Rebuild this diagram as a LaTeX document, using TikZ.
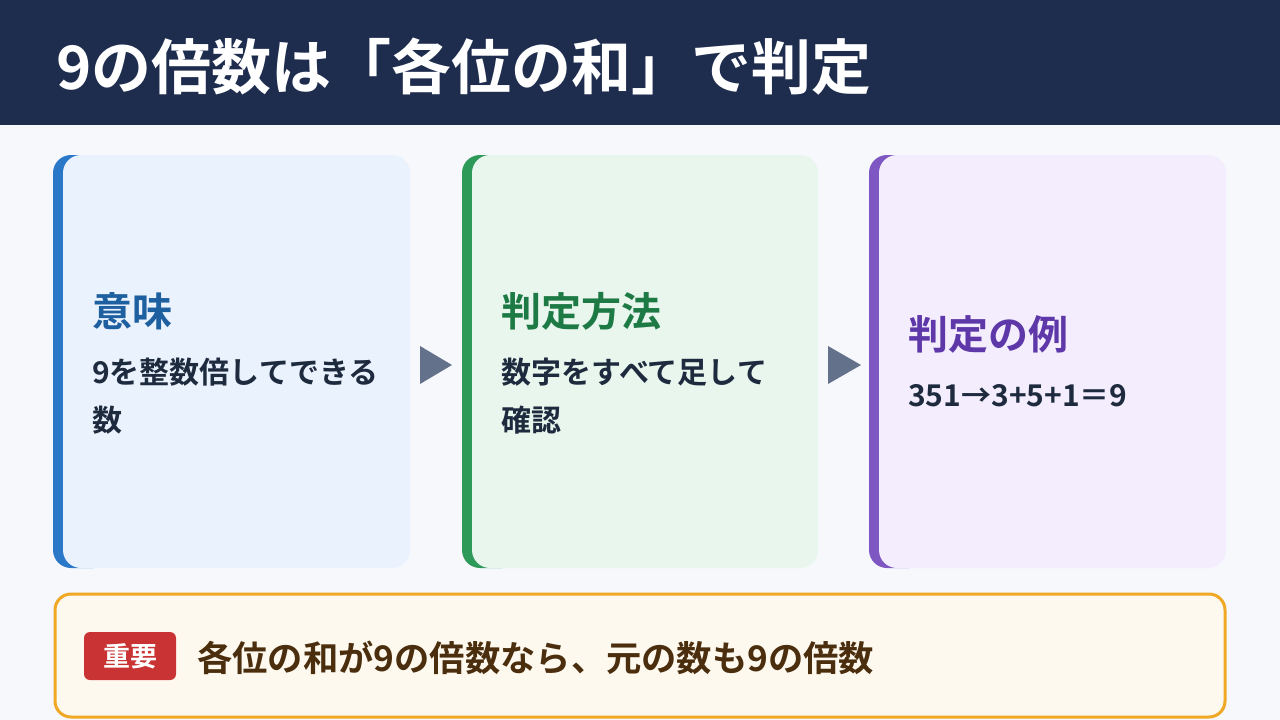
\documentclass[tikz,border=0pt]{standalone}
\usepackage{fontspec}
\setmainfont{Noto Sans CJK JP}[BoldFont={Noto Sans CJK JP Bold}]
\usetikzlibrary{shapes.geometric}
\definecolor{bgc}{HTML}{F6F8FC}
\definecolor{navy}{HTML}{1E2C4E}
\definecolor{ink}{HTML}{1E2A3E}
\definecolor{accA}{HTML}{2B78C8}
\definecolor{fillA}{HTML}{EAF2FE}
\definecolor{headA}{HTML}{1E5FA0}
\definecolor{accB}{HTML}{2E9A5A}
\definecolor{fillB}{HTML}{E8F6EE}
\definecolor{headB}{HTML}{1E7A45}
\definecolor{accC}{HTML}{7E57C2}
\definecolor{fillC}{HTML}{F3EDFE}
\definecolor{headC}{HTML}{5E38A8}
\definecolor{arrowc}{HTML}{64718A}
\definecolor{orangeb}{HTML}{F0A825}
\definecolor{cream}{HTML}{FEF9EE}
\definecolor{badge}{HTML}{C93333}
\definecolor{brown}{HTML}{4A2E0E}
\tikzset{
  heading/.style={anchor=west, inner sep=0pt, font=\bfseries\fontsize{40}{40}\selectfont},
  bodytext/.style={anchor=west, inner sep=0pt, align=left, text=ink, font=\bfseries\fontsize{30}{48}\selectfont},
  tri/.style={fill=arrowc},
}
\newcommand\mycard[4]{%
  \begin{scope}
    \clip (#1,150) rectangle (#1+40,575);
    \fill[#3, rounded corners=18pt] (#1,155) rectangle (#2,568);
  \end{scope}
  \fill[#4, rounded corners=18pt] (#1+10,155) rectangle (#2,568);
}
\begin{document}
\begin{tikzpicture}[x=1pt,y=-1pt]
\useasboundingbox (0,0) rectangle (1280,720);
\fill[bgc] (0,0) rectangle (1280,720);
\fill[navy] (0,0) rectangle (1280,125);
\node[anchor=west, inner sep=0pt, text=white, font=\bfseries\fontsize{60}{60}\selectfont] (title) at (56,67) {9の倍数は「各位の和」で判定};

% cards
\mycard{53}{410}{accA}{fillA}
\mycard{462}{818}{accB}{fillB}
\mycard{869}{1226}{accC}{fillC}

\node[heading, text=headA] (h1) at (92,311) {意味};
\node[bodytext] (t1) at (92,396) {9を整数倍してできる\\数};
\node[heading, text=headB] (h2) at (501,311) {判定方法};
\node[bodytext] (t2) at (501,396) {数字をすべて足して\\確認};
\node[heading, text=headC] (h3) at (908,334) {判定の例};
\node[bodytext] (t3) at (908,396) {351→3+5+1＝9};

% arrows
\coordinate (a1) at (420,346);
\fill[tri] (a1) -- ++(0,38) -- ++(32,-19) -- cycle;
\coordinate (a2) at (828,346);
\fill[tri] (a2) -- ++(0,38) -- ++(33,-19) -- cycle;

% bottom note
\draw[orangeb, line width=3pt, fill=cream, rounded corners=16pt] (55,594) rectangle (1225,717);
\node[fill=badge, rounded corners=6pt, minimum width=92pt, minimum height=48pt, inner sep=0pt, text=white, font=\bfseries\fontsize{27}{27}\selectfont] (badge) at (130,656) {重要};
\node[anchor=west, inner sep=0pt, text=brown, font=\bfseries\fontsize{35.3}{35.3}\selectfont] (note) at (197,658) {各位の和が9の倍数なら、元の数も9の倍数};
\end{tikzpicture}
\end{document}
